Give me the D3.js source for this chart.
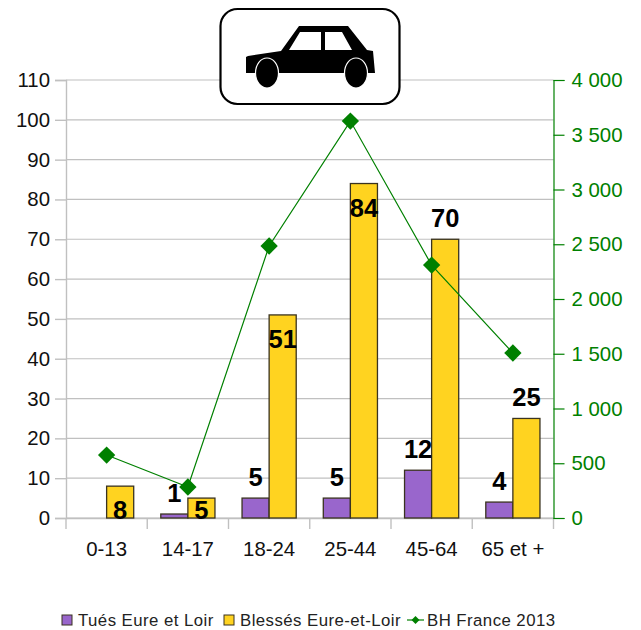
<!DOCTYPE html>
<html>
<head>
<meta charset="utf-8">
<script src="https://cdn.jsdelivr.net/npm/d3@7"></script>
<style>
    html, body { margin: 0; padding: 0; background: #fff; }
    svg { display: block; }
    text { font-family: "Liberation Sans", Arial, sans-serif; }
</style>
</head>
<body>
<script>
//Chart values
var categories = ["0-13", "14-17", "18-24", "25-44", "45-64", "65 et +"];
var tues = [null, 1, 5, 5, 12, 4];
var blesses = [8, 5, 51, 84, 70, 25];
var bhFrance = [575, 283, 2484, 3625, 2310, 1507];
var blessesLabelAbove = [false, false, false, false, true, true];
var leftTicks = d3.range(0, 111, 10);
var rightTicks = d3.range(0, 4001, 500);
var legendLabels = ["Tués Eure et Loir", "Blessés Eure-et-Loir", "BH France 2013"];

var PURPLE = "#9966cc", YELLOW = "#ffd320", GREEN = "#008000", GREY = "#c0c0c0";

var svg = d3.select("body")
    .append("svg")
    .attr("width", 641)
    .attr("height", 630);

var margin = {left: 66, right: 87.5, top: 80, bottom: 112},
    width = 641 - margin.left - margin.right,
    height = 630 - margin.top - margin.bottom;

var x = d3.scaleBand()
    .domain(categories)
    .range([margin.left, margin.left + width]);

var barWidth = x.bandwidth() / 3;

var y = d3.scaleLinear()
    .domain([0, 110])
    .range([margin.top + height, margin.top]);

var yRight = d3.scaleLinear()
    .domain([0, 4000])
    .range([margin.top + height, margin.top]);

//Gridlines
svg.append("g")
    .selectAll("line")
    .data(leftTicks)
    .enter().append("line")
    .attr("x1", margin.left)
    .attr("x2", margin.left + width)
    .attr("y1", function(d) { return y(d); })
    .attr("y2", function(d) { return y(d); })
    .attr("stroke", GREY)
    .attr("stroke-width", 1.2);

//Left axis
var leftAxis = svg.append("g")
    .attr("transform", "translate(" + margin.left + ",0)")
    .call(d3.axisLeft(y).tickValues(leftTicks).tickSize(11).tickPadding(5));
leftAxis.selectAll("path, line").attr("stroke", GREY).attr("stroke-width", 1.4);
leftAxis.selectAll("text")
    .attr("fill", "#111")
    .style("font-size", "20.4px")
    .style("font-family", '"Liberation Sans", Arial, sans-serif');

//Bottom axis, ticks sit between the categories
var bottomAxis = svg.append("g")
    .attr("transform", "translate(0," + (margin.top + height) + ")")
    .call(d3.axisBottom(x).tickSize(0).tickPadding(24));
bottomAxis.select(".domain").attr("stroke", GREY).attr("stroke-width", 1.4);
bottomAxis.selectAll("text")
    .attr("fill", "#111")
    .style("font-size", "20.4px")
    .style("font-family", '"Liberation Sans", Arial, sans-serif');
bottomAxis.selectAll(".sep")
    .data(d3.range(categories.length + 1))
    .enter().append("line")
    .attr("class", "sep")
    .attr("x1", function(i) { return margin.left + i * x.step(); })
    .attr("x2", function(i) { return margin.left + i * x.step(); })
    .attr("y1", 0)
    .attr("y2", 11)
    .attr("stroke", GREY)
    .attr("stroke-width", 1.4);

//Right axis
var rightAxis = svg.append("g")
    .attr("transform", "translate(" + (margin.left + width) + ",0)")
    .call(d3.axisRight(yRight)
        .tickValues(rightTicks)
        .tickSize(11)
        .tickPadding(7)
        .tickFormat(function(d) {
            return d3.format(",")(d).replace(",", " ");
        }));
rightAxis.selectAll("path, line").attr("stroke", GREEN).attr("stroke-width", 1.2);
rightAxis.selectAll("text")
    .attr("fill", GREEN)
    .style("font-size", "20.4px")
    .style("font-family", '"Liberation Sans", Arial, sans-serif');

//Bars
function drawBars(values, color, shift) {
    svg.append("g")
        .selectAll("rect")
        .data(categories.map(function(c, i) { return {cat: c, val: values[i]}; })
            .filter(function(d) { return d.val !== null; }))
        .enter().append("rect")
        .attr("x", function(d) { return x(d.cat) + shift; })
        .attr("y", function(d) { return y(d.val); })
        .attr("width", barWidth)
        .attr("height", function(d) { return y(0) - y(d.val); })
        .attr("fill", color)
        .attr("stroke", "#3a3320")
        .attr("stroke-width", 1.3);
}
drawBars(tues, PURPLE, barWidth * 0.5);
drawBars(blesses, YELLOW, barWidth * 1.5);

//Line
var line = d3.line()
    .x(function(d, i) { return x(categories[i]) + x.bandwidth() / 2; })
    .y(function(d) { return yRight(d); });

svg.append("path")
    .attr("d", line(bhFrance))
    .attr("fill", "none")
    .attr("stroke", GREEN)
    .attr("stroke-width", 1.2);

var diamond = d3.symbol().type(d3.symbolSquare).size(150);

svg.append("g")
    .selectAll("path")
    .data(bhFrance)
    .enter().append("path")
    .attr("d", diamond)
    .attr("fill", GREEN)
    .attr("transform", function(d, i) {
        return "translate(" + (x(categories[i]) + x.bandwidth() / 2) + ","
            + yRight(d) + ") rotate(45)";
    });

//Data labels
function valueLabel(value, cx, baseline) {
    svg.append("text")
        .attr("x", cx)
        .attr("y", baseline)
        .attr("text-anchor", "middle")
        .attr("font-size", 25.5)
        .attr("font-weight", "bold")
        .attr("fill", "#000")
        .text(value);
}

tues.forEach(function(v, i) {
    if (v === null) return;
    valueLabel(v, x(categories[i]) + barWidth, y(v) - 12);
});

blesses.forEach(function(v, i) {
    var base = blessesLabelAbove[i] ? y(v) - 12 : Math.min(y(v) + 33, y(0) + 1);
    valueLabel(v, x(categories[i]) + barWidth * 2, base);
});

//Car sign on top of the chart
var sign = svg.append("g");
sign.append("rect")
    .attr("x", 220.5)
    .attr("y", 9)
    .attr("width", 179)
    .attr("height", 95)
    .attr("rx", 17)
    .attr("fill", "#fff")
    .attr("stroke", "#000")
    .attr("stroke-width", 2.2);
sign.append("path")
    .attr("fill", "#000")
    .attr("fill-rule", "evenodd")
    .attr("d", "M246 57 L248 56 L281 51 L299 26 L348 26 L367 50 L373 51 L375 73 "
        + "L246 73 Z M289 50 L321 50 L321 32 L300 32 Z M325 32 L325 50 L352 50 "
        + "L342 32 Z");
[267, 356].forEach(function(cx) {
    sign.append("ellipse")
        .attr("cx", cx)
        .attr("cy", 73)
        .attr("rx", 11.5)
        .attr("ry", 15)
        .attr("fill", "#000")
        .attr("stroke", "#fff")
        .attr("stroke-width", 1.2);
});

//Legend
var legendY = 620;
var legendKeys = [62, 224];
var legendText = [78, 240, 427];
var legendColors = [PURPLE, YELLOW];

legendColors.forEach(function(c, i) {
    svg.append("rect")
        .attr("x", legendKeys[i])
        .attr("y", legendY - 5)
        .attr("width", 10)
        .attr("height", 10)
        .attr("fill", c)
        .attr("stroke", "#3a3320")
        .attr("stroke-width", 1);
});

svg.append("line")
    .attr("x1", 407)
    .attr("x2", 424)
    .attr("y1", legendY)
    .attr("y2", legendY)
    .attr("stroke", GREEN)
    .attr("stroke-width", 1.2);
svg.append("path")
    .attr("d", d3.symbol().type(d3.symbolSquare).size(32))
    .attr("fill", GREEN)
    .attr("transform", "translate(415.5," + legendY + ") rotate(45)");

legendLabels.forEach(function(t, i) {
    svg.append("text")
        .attr("x", legendText[i])
        .attr("y", legendY + 6)
        .attr("font-size", 16.8)
        .attr("letter-spacing", 0.45)
        .attr("fill", "#222")
        .text(t);
});
</script>
</body>
</html>
